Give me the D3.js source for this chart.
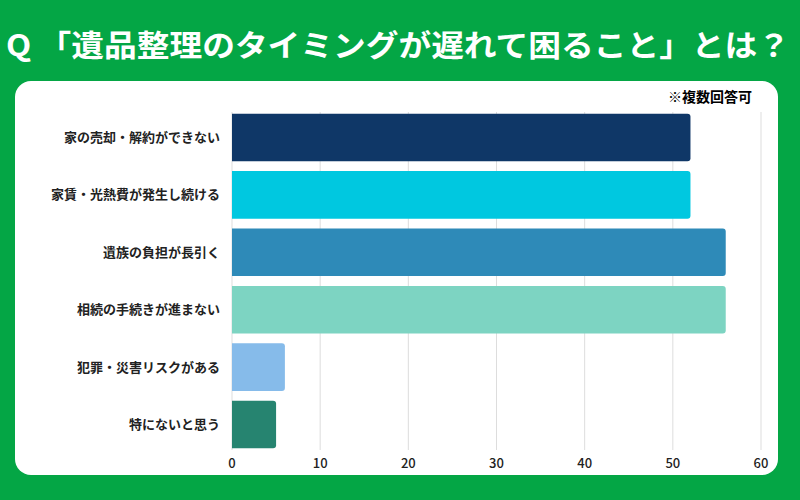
<!DOCTYPE html>
<html><head><meta charset="utf-8">
<script src="https://cdn.jsdelivr.net/npm/d3@7"></script>
<style>body{margin:0;background:#04a645;font-family:"Noto Sans CJK JP",sans-serif}</style>
</head><body><svg id="canvas" width="800" height="500"></svg>
<script>
const categories = ["家の売却・解約ができない","家賃・光熱費が発生し続ける","遺族の負担が長引く","相続の手続きが進まない","犯罪・災害リスクがある","特にないと思う"];
const values = [52, 52, 56, 56, 6, 5];
const colors = ["#0f3767","#00c8e0","#2e8ab8","#7dd4c2","#86bbea","#268470"];
const ticks = [0, 10, 20, 30, 40, 50, 60];

const svg = d3.select("#canvas");
svg.append("rect").attr("width", 800).attr("height", 500).attr("fill", "#04a645");
svg.append("text").attr("x", 6).attr("y", 56)
  .attr("fill", "white").attr("font-size", 30).attr("font-weight", 700)
  .attr("textLength", 784).attr("lengthAdjust", "spacingAndGlyphs")
  .text("Q 「遺品整理のタイミングが遅れて困ること」とは？");
svg.append("rect").attr("x", 15).attr("y", 81).attr("width", 763).attr("height", 394)
  .attr("rx", 16).attr("fill", "white");
svg.append("text").attr("x", 752).attr("y", 102).attr("text-anchor", "end")
  .attr("font-size", 14).attr("font-weight", 700).text("※複数回答可");

const x = d3.scaleLinear().domain([0, 60]).range([232, 761]);
const y = d3.scaleBand().domain(categories).range([108, 454]).paddingInner(0.17).paddingOuter(0.1);

svg.append("g").selectAll("line").data(ticks).join("line")
  .attr("x1", d => x(d)).attr("x2", d => x(d)).attr("y1", 112).attr("y2", 450)
  .attr("stroke", "#ddd").attr("stroke-width", 1);

svg.append("g").selectAll("path").data(values).join("path")
  .attr("fill", (d, i) => colors[i])
  .attr("d", (d, i) => {
    const x0 = x(0), x1 = x(d), y0 = y(categories[i]), h = y.bandwidth(), r = 3;
    return `M${x0},${y0}H${x1 - r}Q${x1},${y0} ${x1},${y0 + r}V${y0 + h - r}Q${x1},${y0 + h} ${x1 - r},${y0 + h}H${x0}Z`;
  });

svg.append("g").selectAll("text").data(categories).join("text")
  .attr("x", 220).attr("y", d => y(d) + y.bandwidth() / 2).attr("dy", "0.35em")
  .attr("text-anchor", "end").attr("font-size", 13).attr("font-weight", 700).attr("fill", "#222").text(d => d);

svg.append("g").selectAll("text").data(ticks).join("text")
  .attr("x", d => x(d)).attr("y", 468).attr("text-anchor", "middle")
  .attr("font-size", 13).attr("font-weight", 500).attr("fill", "#222").text(d => d);
</script></body></html>
